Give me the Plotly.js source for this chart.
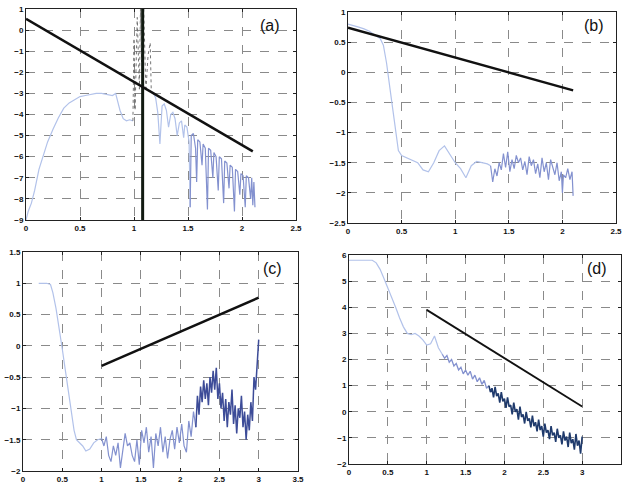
<!DOCTYPE html>
<html><head><meta charset="utf-8">
<script src="https://cdn.plot.ly/plotly-3.0.1.min.js"></script>
<style>html,body{margin:0;padding:0;background:#fff}#chart{width:625px;height:484px}</style>
</head><body><div id="chart"></div><script>
// ---------- Panel (a) ----------
const aFitX = [0, 2.1];
const aFitY = [0.53, -5.75];
const aLightX = [0, 0.02, 0.05, 0.08, 0.12, 0.16, 0.2, 0.25, 0.3, 0.35, 0.4, 0.45, 0.5, 0.55, 0.6, 0.65, 0.7, 0.75, 0.8, 0.83, 0.85, 0.87, 0.9, 0.93, 0.96, 0.99];
const aLightY = [-9, -8.6, -8.2, -7.6, -6.6, -6.0, -5.3, -4.7, -4.15, -3.7, -3.45, -3.3, -3.15, -3.1, -3.05, -3.0, -3.0, -3.05, -3.1, -3.0, -3.4, -3.8, -4.2, -4.3, -4.25, -4.3];
const aSpikeX = [0.99, 1.0, 1.01, 1.03, 1.05, 1.06, 1.07, 1.09, 1.11, 1.13, 1.15, 1.16];
const aSpikeY = [-4.3, -0.4, -3.8, 0.6, -2.8, 1.0, -1.5, 1.0, -2.9, -1.2, -0.6, -2.9];
const aBarX = [1.08, 1.08];
const aBarY = [-9, 1];
const aTail1X = [1.16, 1.18, 1.2, 1.22, 1.24, 1.26, 1.28, 1.3, 1.32, 1.34, 1.36, 1.38, 1.4, 1.42, 1.44, 1.46, 1.47, 1.49, 1.51, 1.52];
const aTail1Y = [-2.9, -3.0, -3.2, -3.9, -5.4, -3.6, -3.5, -3.8, -4.6, -4.0, -3.9, -4.2, -5.0, -4.4, -4.3, -5.1, -4.5, -4.6, -5.3, -8.4];
const aTail2X = [1.52, 1.53, 1.55, 1.57, 1.58, 1.59, 1.61, 1.63, 1.64, 1.66, 1.68, 1.69, 1.71, 1.73, 1.74, 1.76, 1.78, 1.79, 1.81, 1.83, 1.84, 1.86, 1.88, 1.89, 1.91, 1.93, 1.94, 1.96, 1.98, 1.99, 2.01, 2.03, 2.04, 2.06, 2.08, 2.09, 2.1, 2.11, 2.12];
const aTail2Y = [-8.4, -5.0, -4.9, -5.6, -7.2, -5.2, -5.3, -6.4, -5.4, -5.6, -8.5, -5.6, -5.7, -7.0, -5.8, -6.0, -7.6, -6.0, -6.1, -8.2, -6.2, -6.3, -7.5, -6.4, -6.5, -8.6, -6.6, -6.7, -7.8, -6.8, -6.9, -8.4, -6.9, -7.0, -8.0, -7.0, -8.3, -7.2, -8.4];

// ---------- Panel (b) ----------
const bFitX = [0, 2.1];
const bFitY = [0.74, -0.3];
const bLightX = [0, 0.05, 0.1, 0.15, 0.2, 0.25, 0.3, 0.33, 0.36, 0.39, 0.42, 0.45, 0.47, 0.5, 0.55, 0.6, 0.65, 0.7, 0.75, 0.8, 0.85, 0.9, 0.95, 1.0, 1.05, 1.1, 1.15, 1.2, 1.25, 1.3, 1.33];
const bLightY = [0.8, 0.78, 0.75, 0.72, 0.68, 0.62, 0.56, 0.45, 0.15, -0.25, -0.65, -1.0, -1.3, -1.38, -1.42, -1.45, -1.5, -1.62, -1.65, -1.5, -1.3, -1.22, -1.35, -1.5, -1.6, -1.75, -1.55, -1.48, -1.5, -1.52, -1.55];
const bNoiseX = [1.33, 1.35, 1.37, 1.39, 1.41, 1.43, 1.45, 1.47, 1.49, 1.51, 1.53, 1.55, 1.57, 1.59, 1.61, 1.63, 1.65, 1.67, 1.69, 1.71, 1.73, 1.75, 1.77, 1.79, 1.81, 1.83, 1.85, 1.87, 1.89, 1.91, 1.93, 1.95, 1.97, 1.99, 2.0, 2.01, 2.03, 2.05, 2.07, 2.09, 2.1];
const bNoiseY = [-1.55, -1.82, -1.6, -1.72, -1.5, -1.62, -1.35, -1.58, -1.32, -1.65, -1.45, -1.6, -1.38, -1.5, -1.42, -1.62, -1.48, -1.7, -1.4, -1.55, -1.45, -1.68, -1.52, -1.75, -1.42, -1.65, -1.5, -1.78, -1.45, -1.6, -1.7, -1.5, -1.8, -1.65, -2.0, -1.7, -1.75, -1.6, -1.78, -1.65, -2.05];

// ---------- Panel (c) ----------
const cFitX = [1, 3];
const cFitY = [-0.32, 0.77];
const cLightX = [0.2, 0.25, 0.3, 0.35, 0.38, 0.42, 0.46, 0.5, 0.54, 0.58, 0.62, 0.65, 0.68, 0.72, 0.76, 0.8, 0.85, 0.9, 0.95, 1.0];
const cLightY = [1.0, 1.0, 1.0, 0.98, 0.85, 0.6, 0.3, -0.05, -0.4, -0.75, -1.1, -1.35, -1.5, -1.55, -1.6, -1.68, -1.65, -1.55, -1.5, -1.48];
const cMidX = [1.0, 1.03, 1.06, 1.09, 1.12, 1.15, 1.18, 1.21, 1.24, 1.27, 1.3, 1.33, 1.36, 1.39, 1.42, 1.45, 1.48, 1.51, 1.54, 1.57, 1.6, 1.63, 1.66, 1.69, 1.72, 1.75, 1.78, 1.81, 1.84, 1.87, 1.9, 1.93, 1.96, 1.99, 2.02, 2.05, 2.08, 2.11, 2.14, 2.17, 2.2];
const cMidY = [-1.48, -1.6, -1.45, -1.75, -1.85, -1.6, -1.75, -1.55, -1.95, -1.65, -1.4, -1.6, -1.55, -1.75, -1.85, -1.5, -1.9, -1.35, -1.55, -1.3, -1.7, -1.45, -1.95, -1.4, -1.6, -1.3, -1.7, -1.45, -1.8, -1.5, -1.35, -1.65, -1.3, -1.55, -1.25, -1.6, -1.7, -1.2, -1.45, -1.05, -1.3];
const cDarkX = [2.2, 2.22, 2.24, 2.26, 2.28, 2.3, 2.32, 2.34, 2.36, 2.38, 2.4, 2.42, 2.44, 2.46, 2.48, 2.5, 2.52, 2.54, 2.56, 2.58, 2.6, 2.62, 2.64, 2.66, 2.68, 2.7, 2.72, 2.74, 2.76, 2.78, 2.8, 2.82, 2.84, 2.86, 2.88, 2.9, 2.92, 2.94, 2.96, 2.98, 3.0];
const cDarkY = [-1.3, -0.8, -1.1, -0.65, -0.9, -0.55, -0.85, -0.6, -0.95, -0.5, -0.75, -0.4, -0.7, -0.35, -0.85, -0.6, -1.0, -0.75, -1.2, -0.85, -1.3, -0.9, -1.1, -0.7, -1.25, -0.95, -1.4, -1.0, -1.15, -0.8, -1.3, -1.05, -1.5, -1.1, -1.35, -0.9, -1.2, -0.5, -0.7, -0.2, 0.1];

// ---------- Panel (d) ----------
const dFitX = [1, 3];
const dFitY = [3.9, 0.2];
const dLightX = [0, 0.1, 0.2, 0.3, 0.35, 0.4, 0.45, 0.5, 0.55, 0.6, 0.65, 0.7, 0.75, 0.8, 0.85, 0.9, 0.95, 1.0, 1.05, 1.1, 1.15, 1.2];
const dLightY = [5.8, 5.8, 5.8, 5.8, 5.7, 5.45, 5.1, 4.75, 4.35, 4.0, 3.6, 3.25, 3.0, 2.95, 3.0, 2.9, 2.75, 2.55, 2.6, 2.9, 2.45, 2.2];
const dMidX = [1.2, 1.23, 1.26, 1.29, 1.32, 1.35, 1.38, 1.41, 1.44, 1.47, 1.5, 1.53, 1.56, 1.59, 1.62, 1.65, 1.68, 1.71, 1.74, 1.77, 1.8];
const dMidY = [2.2, 2.05, 2.15, 1.9, 2.0, 1.75, 1.85, 1.6, 1.7, 1.45, 1.6, 1.4, 1.55, 1.25, 1.4, 1.15, 1.3, 1.05, 1.2, 0.9, 1.0];
const dDarkX = [1.8, 1.82, 1.84, 1.86, 1.88, 1.9, 1.92, 1.94, 1.96, 1.98, 2.0, 2.02, 2.04, 2.06, 2.08, 2.1, 2.12, 2.14, 2.16, 2.18, 2.2, 2.22, 2.24, 2.26, 2.28, 2.3, 2.32, 2.34, 2.36, 2.38, 2.4, 2.42, 2.44, 2.46, 2.48, 2.5, 2.52, 2.54, 2.56, 2.58, 2.6, 2.62, 2.64, 2.66, 2.68, 2.7, 2.72, 2.74, 2.76, 2.78, 2.8, 2.82, 2.84, 2.86, 2.88, 2.9, 2.92, 2.94, 2.96, 2.98, 3.0];
const dDarkY = [1.0, 0.75, 0.9, 0.55, 0.95, 0.6, 0.7, 0.35, 0.75, 0.4, 0.5, 0.15, 0.55, 0.2, 0.25, -0.1, 0.35, 0.0, 0.1, -0.3, 0.2, -0.2, -0.1, -0.45, 0.0, -0.35, -0.25, -0.6, -0.15, -0.55, -0.4, -0.75, -0.3, -0.7, -0.55, -0.95, -0.45, -0.8, -0.7, -1.05, -0.55, -0.9, -0.8, -1.15, -0.65, -1.0, -0.9, -1.25, -0.75, -1.1, -0.95, -1.35, -0.8, -1.2, -1.05, -1.45, -0.85, -1.3, -1.1, -1.6, -0.95];

const panelLabels = ['(a)', '(b)', '(c)', '(d)'];

// ---------- traces ----------
const LIGHT = '#b2c2ea', MID = '#8391cf', DARK = '#3d4c98', NAVY = '#1f3a6c', FIT = '#111111';
function tr(x, y, ax, color, width, dash) {
  return {x: x, y: y, xaxis: 'x' + ax, yaxis: 'y' + ax, type: 'scatter', mode: 'lines',
          line: {color: color, width: width, dash: dash || 'solid'}, hoverinfo: 'skip'};
}
const data = [
  tr(aLightX, aLightY, '', LIGHT, 1.2),
  tr(aTail1X, aTail1Y, '', LIGHT, 1.2),
  tr(aTail2X, aTail2Y, '', MID, 1.2),
  tr(aSpikeX, aSpikeY, '', '#666666', 0.9, 'dot'),
  tr(aBarX, aBarY, '', '#111a11', 3),
  tr(aFitX, aFitY, '', FIT, 2.5),

  tr(bLightX, bLightY, '2', LIGHT, 1.2),
  tr(bNoiseX, bNoiseY, '2', MID, 1.2),
  tr(bFitX, bFitY, '2', FIT, 2.5),

  tr(cLightX, cLightY, '3', LIGHT, 1.2),
  tr(cMidX, cMidY, '3', MID, 1.2),
  tr(cDarkX, cDarkY, '3', DARK, 1.5),
  tr(cFitX, cFitY, '3', FIT, 2.5),

  tr(dLightX, dLightY, '4', LIGHT, 1.2),
  tr(dMidX, dMidY, '4', MID, 1.3),
  tr(dDarkX, dDarkY, '4', NAVY, 1.6),
  tr(dFitX, dFitY, '4', FIT, 1.8)
];

function axis(domain, range, dtick, anchor) {
  return {domain: domain, range: range, dtick: dtick, tick0: 0, autorange: false,
    showgrid: true, gridcolor: '#8a8a8a', griddash: 'dash', gridwidth: 1,
    zeroline: false, showline: true, linecolor: '#222', linewidth: 1, mirror: 'ticks',
    ticks: 'inside', ticklen: 3, tickcolor: '#222',
    tickfont: {family: 'Liberation Sans, Arial, sans-serif', size: 8, color: '#111', weight: 'bold'},
    anchor: anchor, fixedrange: true};
}

const layout = {
  width: 625, height: 484, margin: {l: 0, r: 0, t: 0, b: 0},
  paper_bgcolor: '#ffffff', plot_bgcolor: '#ffffff', showlegend: false,
  xaxis:  axis([0.0416, 0.4736], [0, 2.5], 0.5, 'y'),
  yaxis:  axis([0.5455, 0.9814], [-9, 1], 1, 'x'),
  xaxis2: axis([0.5568, 0.9856], [0, 2.5], 0.5, 'y2'),
  yaxis2: axis([0.5393, 0.9752], [-2.5, 1], 0.5, 'x2'),
  xaxis3: axis([0.0368, 0.4768], [0, 3.5], 0.5, 'y3'),
  yaxis3: axis([0.0269, 0.4793], [-2, 1.5], 0.5, 'x3'),
  xaxis4: axis([0.5584, 0.9936], [0, 3.5], 0.5, 'y4'),
  yaxis4: axis([0.0413, 0.4731], [-2, 6], 1, 'x4'),
  annotations: [
    {text: panelLabels[0], x: 0.432, y: 0.948},
    {text: panelLabels[1], x: 0.950, y: 0.948},
    {text: panelLabels[2], x: 0.436, y: 0.446},
    {text: panelLabels[3], x: 0.955, y: 0.446}
  ].map(a => Object.assign(a, {xref: 'paper', yref: 'paper', showarrow: false,
      xanchor: 'center', yanchor: 'middle',
      font: {family: 'Liberation Sans, Arial, sans-serif', size: 16, color: '#111'}}))
};

Plotly.newPlot('chart', data, layout, {staticPlot: true, displayModeBar: false});
</script></body></html>
